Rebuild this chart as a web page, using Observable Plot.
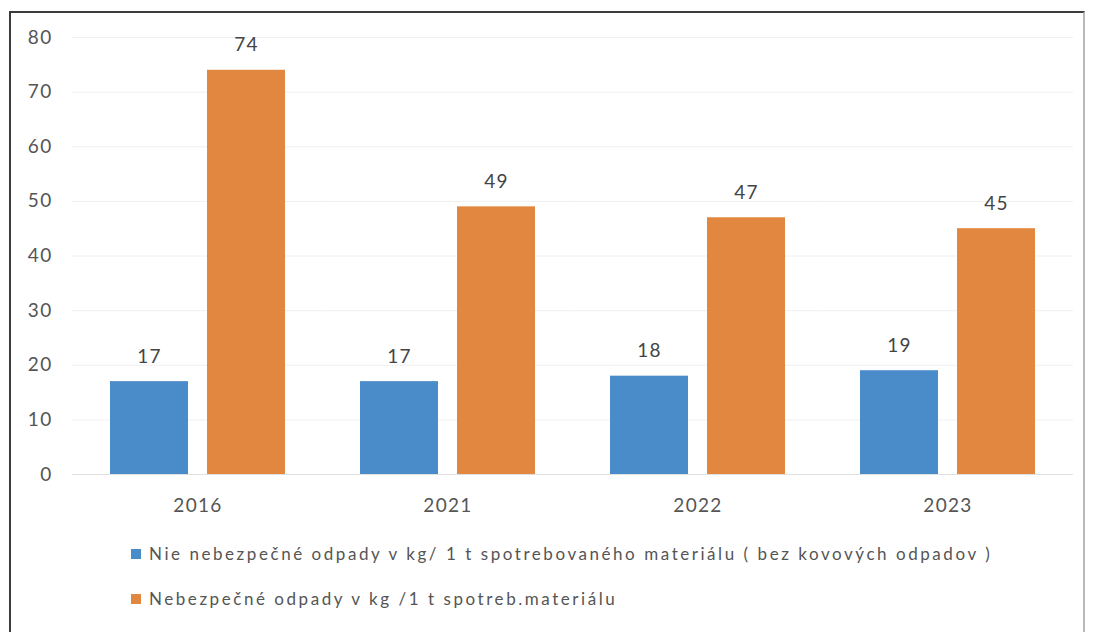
<!DOCTYPE html>
<html><head><meta charset="utf-8">
<script src="https://cdn.jsdelivr.net/npm/d3@7"></script>
<script src="https://cdn.jsdelivr.net/npm/@observablehq/plot@0.6"></script>
<style>
body{margin:0;width:1093px;height:632px;overflow:hidden;background:#fff;font-family:Lato,"Open Sans",sans-serif;position:relative}
#frame{position:absolute;left:9px;top:11px;width:1076px;height:700px;border:2px solid #3c3c3c;border-right-color:#b8b8b8;box-sizing:border-box}
#chart{position:absolute;left:0;top:0}
.leg{position:absolute;left:131px;font-size:17px;letter-spacing:2.55px;color:#555;display:flex;align-items:center;white-space:nowrap}
.sw{width:10px;height:10px;margin-right:8px;flex:none}
</style></head><body>
<div id="frame"></div>
<div id="chart"></div>
<div id="legend"></div>
<script>
const years = ["2016", "2021", "2022", "2023"];
const seriesNames = [
  "Nie nebezpečné odpady v kg/ 1 t spotrebovaného materiálu ( bez kovových odpadov )",
  "Nebezpečné odpady v kg /1 t spotreb.materiálu"
];
const nonHazardous = [17, 17, 18, 19];
const hazardous = [74, 49, 47, 45];
const seriesColors = ["#4a8bc9", "#e1873f"];
const yTicks = [0, 10, 20, 30, 40, 50, 60, 70, 80];

const data = [];
years.forEach((yr, i) => {
  data.push({year: yr, series: seriesNames[0], value: nonHazardous[i]});
  data.push({year: yr, series: seriesNames[1], value: hazardous[i]});
});

const chart = Plot.plot({
  width: 1093,
  height: 530,
  marginLeft: 72,
  marginRight: 21,
  marginTop: 37,
  marginBottom: 56,
  style: {fontFamily: "Lato, 'Open Sans', sans-serif", fontSize: "19px", letterSpacing: "1.3px", color: "#555", background: "transparent"},
  fx: {domain: years, paddingInner: 0.3, paddingOuter: 0.15, label: null, axis: "bottom", tickSize: 0, tickPadding: 24},
  x: {domain: seriesNames, paddingInner: 0.196, paddingOuter: 0, axis: null},
  y: {domain: [0, 80], ticks: yTicks, label: null, tickSize: 0, tickPadding: 58},
  color: {domain: seriesNames, range: seriesColors},
  marks: [
    Plot.ruleY(yTicks, {stroke: "#f0f0f0", insetLeft: -38, insetRight: -38}),
    Plot.ruleY([0], {stroke: "#e0e0e0", insetLeft: -38, insetRight: -38}),
    Plot.barY(data, {fx: "year", x: "series", y: "value", fill: "series"}),
    Plot.text(data, {fx: "year", x: "series", y: "value", text: d => String(d.value), dy: -25, fill: "#444", fontSize: 19})
  ]
});
document.getElementById("chart").appendChild(chart);

const legend = document.getElementById("legend");
const legTops = [543, 588];
seriesNames.forEach((name, i) => {
  const row = document.createElement("div");
  row.className = "leg";
  row.style.top = legTops[i] + "px";
  const sw = document.createElement("span");
  sw.className = "sw";
  sw.style.background = seriesColors[i];
  const t = document.createElement("span");
  t.textContent = name;
  row.appendChild(sw);
  row.appendChild(t);
  legend.appendChild(row);
});
</script>
</body></html>
